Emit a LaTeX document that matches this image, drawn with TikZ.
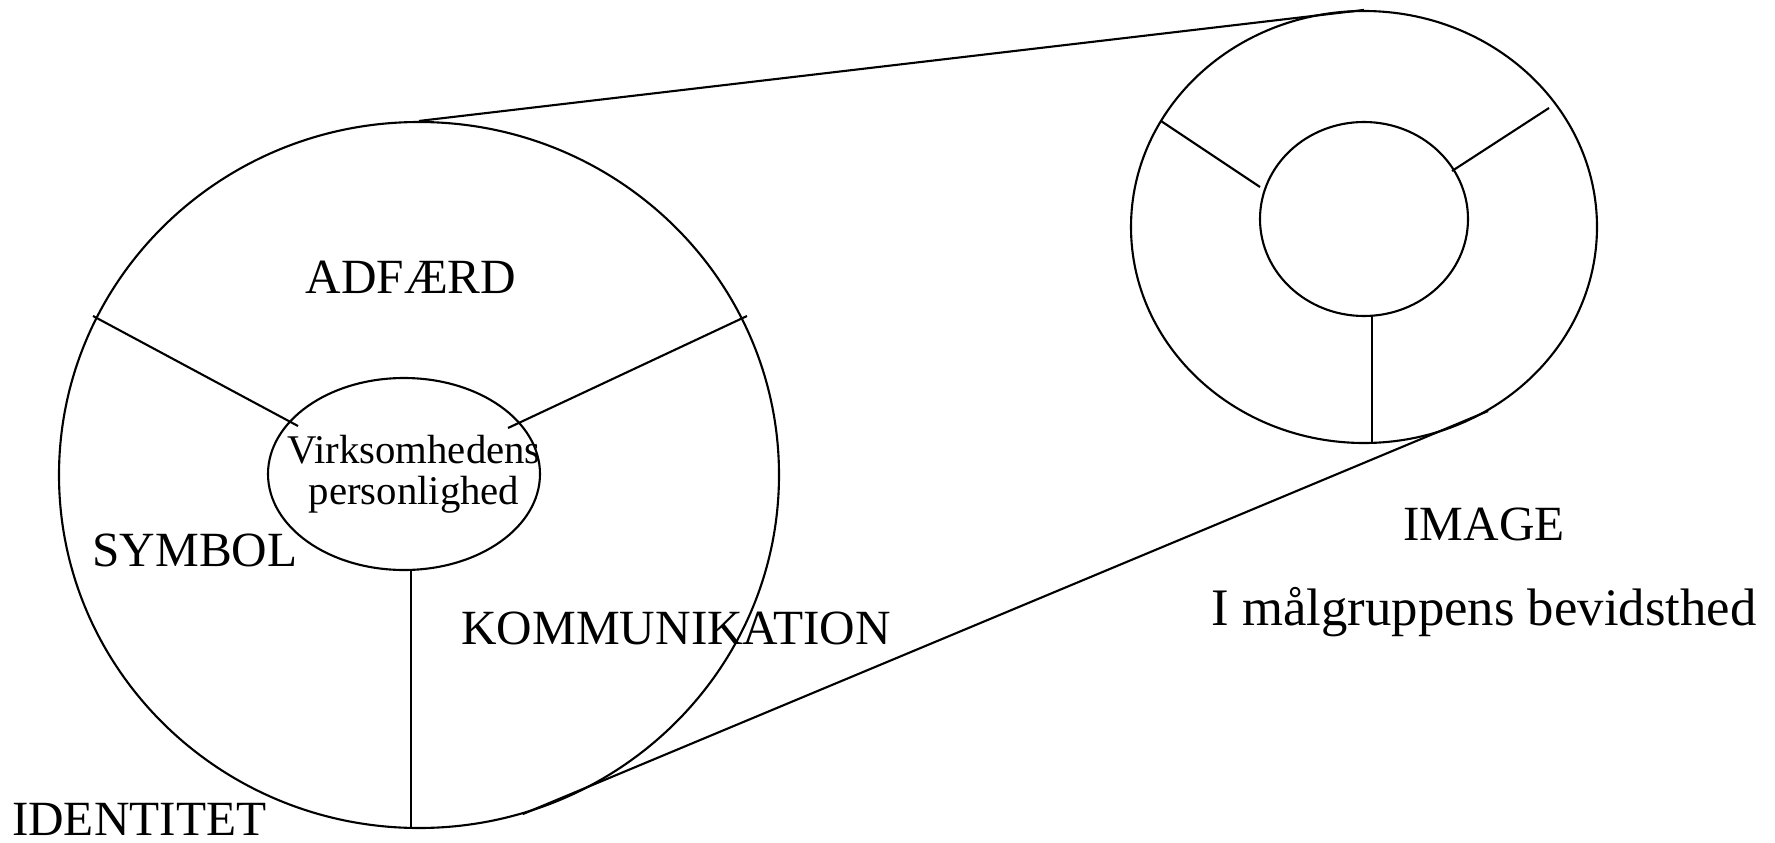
\documentclass[tikz,border=0pt]{standalone}
\usepackage{fontspec}
\setmainfont{Liberation Serif}
\usetikzlibrary{shapes.geometric,positioning}

\begin{document}
\begin{tikzpicture}[
    line width=0.6pt,
    ring/.style={
        draw, ellipse,
        inner sep=0pt
    },
    lbl/.style={
        anchor=base,
        inner sep=0pt,
        font=\fontsize{14}{16}\selectfont
    },
    core/.style={
        align=center,
        inner sep=0pt,
        font=\fontsize{11.6}{11.8}\selectfont
    }
]
\useasboundingbox (0,0) rectangle (17.75,8.42);

% Identity (left)
\node[ring, minimum width=7.2cm, minimum height=7.06cm] (ident) at (4.19,3.67) {};
\node[ring, minimum width=2.72cm, minimum height=1.92cm] (pers) at (4.04,3.68) {};
\node[core] (perstxt) at (4.14,3.68) {Virksomhedens\\personlighed};

\draw (0.93,5.26) -- (2.98,4.16);
\draw (7.47,5.26) -- (5.08,4.14);
\draw (4.11,2.72) -- (4.11,0.145);

\node[lbl] (adfaerd) at (4.11,5.49) {ADFÆRD};
\node[lbl] (symbol)  at (1.95,2.76) {SYMBOL};
\node[lbl] (komm)    at (6.76,1.98) {KOMMUNIKATION};
\node[lbl, anchor=base west] (identtxt) at (0.11,0.07) {IDENTITET};

% Image (right)
\node[ring, minimum width=4.66cm, minimum height=4.32cm] (img) at (13.64,6.15) {};
\node[ring, minimum width=2.08cm, minimum height=1.94cm] (imgcore) at (13.64,6.23) {};

\draw (11.61,7.21) -- (12.60,6.55);
\draw (15.49,7.34) -- (14.52,6.71);
\draw (13.72,5.26) -- (13.72,3.99);

\node[lbl] (imagetxt) at (14.84,3.02) {IMAGE};
\node[lbl, font=\fontsize{15}{17}\selectfont] (bevid) at (14.84,2.17) {I målgruppens bevidsthed};

% Zoom lines
\draw (ident.north) -- (img.north);
\draw (ident.-73) -- (img.-56);

\end{tikzpicture}
\end{document}
